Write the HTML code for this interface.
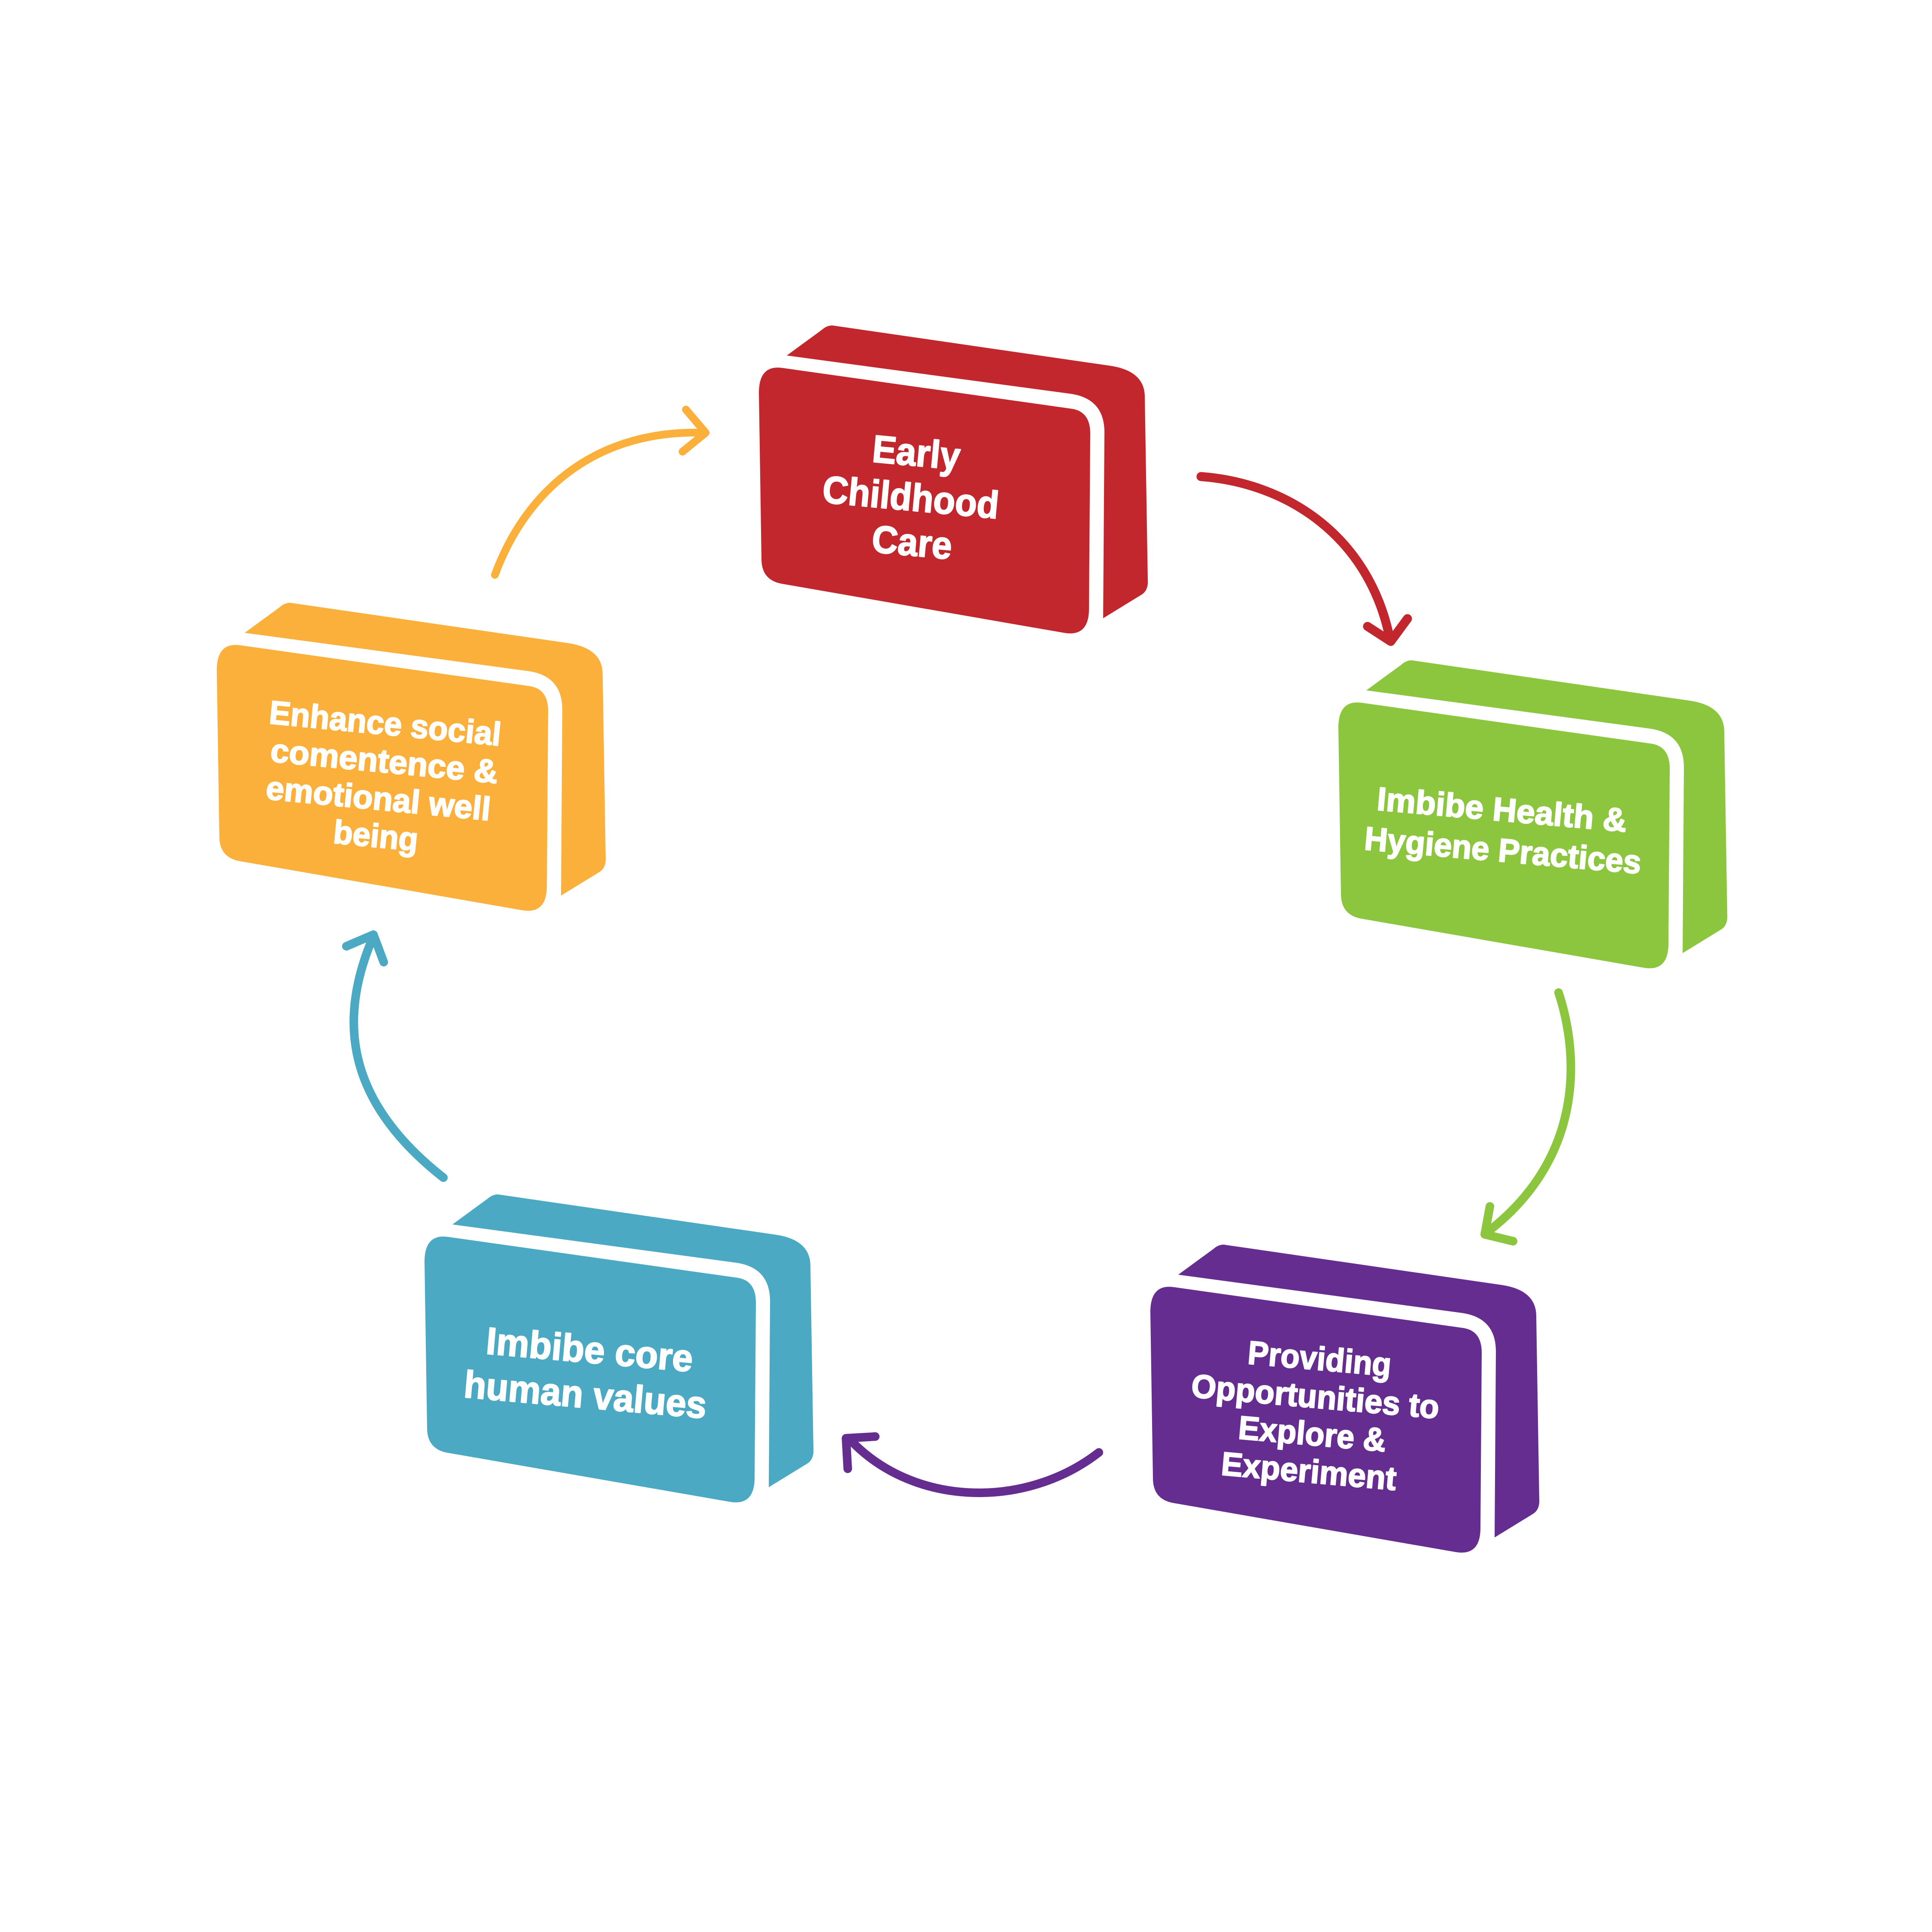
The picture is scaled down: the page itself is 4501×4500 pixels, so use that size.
<!DOCTYPE html>
<html>
<head>
<meta charset="utf-8">
<style>
  html, body { margin: 0; padding: 0; background: #ffffff; }
  body { width: 4501px; height: 4500px; overflow: hidden; }
  svg { display: block; }
  .t { font-family: "Liberation Sans", "DejaVu Sans", sans-serif; font-weight: bold; fill: #ffffff; stroke: #ffffff; stroke-width: 2.5; stroke-linejoin: round; }
</style>
</head>
<body>
<svg xmlns="http://www.w3.org/2000/svg" width="4501" height="4500" viewBox="0 0 4501 4500">
  <rect x="0" y="0" width="4501" height="4500" fill="#ffffff"/>

  <!-- ===== Red box: Early Childhood Care ===== -->
  <g transform="translate(1833,828)" fill="#C1272D">
    <path d="M0,0 L82,-60 Q93,-70 106,-70 L754,24 Q833,36 834,95 L841,522 Q843,548 825,558 L737,612 L740,179 Q740,100 660,89 Z"/>
    <path d="M-10,29 L663,124 Q707,130 707,182 L704,590 Q704,656 646,646 L-10,532 Q-59,524 -59,474 L-65,87 Q-65,21 -10,29 Z"/>
  </g>
  <g class="t" font-size="90" text-anchor="middle">
    <text transform="translate(2132,1085) rotate(5.3)" textLength="205" lengthAdjust="spacingAndGlyphs">Early</text>
    <text transform="translate(2119,1189) rotate(5.3)" textLength="412" lengthAdjust="spacingAndGlyphs">Childhood</text>
    <text transform="translate(2122,1294) rotate(5.3)" textLength="187" lengthAdjust="spacingAndGlyphs">Care</text>
  </g>

  <!-- ===== Orange box ===== -->
  <g transform="translate(570,1474)" fill="#FBB03B">
    <path d="M0,0 L82,-60 Q93,-70 106,-70 L754,24 Q833,36 834,95 L841,522 Q843,548 825,558 L737,612 L740,179 Q740,100 660,89 Z"/>
    <path d="M-10,29 L663,124 Q707,130 707,182 L704,590 Q704,656 646,646 L-10,532 Q-59,524 -59,474 L-65,87 Q-65,21 -10,29 Z"/>
  </g>
  <g class="t" font-size="77" text-anchor="middle">
    <text transform="translate(895,1711) rotate(5.5)" textLength="542" lengthAdjust="spacingAndGlyphs">Enhance social</text>
    <text transform="translate(893,1799) rotate(5.5)" textLength="532" lengthAdjust="spacingAndGlyphs">comentence &amp;</text>
    <text transform="translate(879,1886) rotate(5.5)" textLength="525" lengthAdjust="spacingAndGlyphs">emotional well</text>
    <text transform="translate(873,1973) rotate(5.5)" textLength="198" lengthAdjust="spacingAndGlyphs">being</text>
  </g>

  <!-- ===== Green box ===== -->
  <g transform="translate(3183,1608)" fill="#8CC63F">
    <path d="M0,0 L82,-60 Q93,-70 106,-70 L754,24 Q833,36 834,95 L841,522 Q843,548 825,558 L737,612 L740,179 Q740,100 660,89 Z"/>
    <path d="M-10,29 L663,124 Q707,130 707,182 L704,590 Q704,656 646,646 L-10,532 Q-59,524 -59,474 L-65,87 Q-65,21 -10,29 Z"/>
  </g>
  <g class="t" font-size="77" text-anchor="middle">
    <text transform="translate(3497,1912) rotate(5)" textLength="584" lengthAdjust="spacingAndGlyphs">Imbibe Health &amp;</text>
    <text transform="translate(3499,2007) rotate(5)" textLength="647" lengthAdjust="spacingAndGlyphs">Hygiene Practices</text>
  </g>

  <!-- ===== Purple box ===== -->
  <g transform="translate(2745,2969)" fill="#662D91">
    <path d="M0,0 L82,-60 Q93,-70 106,-70 L754,24 Q833,36 834,95 L841,522 Q843,548 825,558 L737,612 L740,179 Q740,100 660,89 Z"/>
    <path d="M-10,29 L663,124 Q707,130 707,182 L704,590 Q704,656 646,646 L-10,532 Q-59,524 -59,474 L-65,87 Q-65,21 -10,29 Z"/>
  </g>
  <g class="t" font-size="77" text-anchor="middle">
    <text transform="translate(3072,3191) rotate(5)" textLength="335" lengthAdjust="spacingAndGlyphs">Providing</text>
    <text transform="translate(3062,3279) rotate(5)" textLength="579" lengthAdjust="spacingAndGlyphs">Opportunities to</text>
    <text transform="translate(3055,3366) rotate(5)" textLength="345" lengthAdjust="spacingAndGlyphs">Explore &amp;</text>
    <text transform="translate(3047,3453) rotate(5)" textLength="409" lengthAdjust="spacingAndGlyphs">Experiment</text>
  </g>

  <!-- ===== Blue box ===== -->
  <g transform="translate(1054,2852)" fill="#4BA9C4">
    <path d="M0,0 L82,-60 Q93,-70 106,-70 L754,24 Q833,36 834,95 L841,522 Q843,548 825,558 L737,612 L740,179 Q740,100 660,89 Z"/>
    <path d="M-10,29 L663,124 Q707,130 707,182 L704,590 Q704,656 646,646 L-10,532 Q-59,524 -59,474 L-65,87 Q-65,21 -10,29 Z"/>
  </g>
  <g class="t" font-size="89" text-anchor="middle">
    <text transform="translate(1371,3174) rotate(5)" textLength="483" lengthAdjust="spacingAndGlyphs">Imbibe core</text>
    <text transform="translate(1361,3279) rotate(5)" textLength="567" lengthAdjust="spacingAndGlyphs">human values</text>
  </g>

  <!-- ===== Arrows ===== -->
  <g fill="none" stroke-linecap="round" stroke-linejoin="round" stroke-width="20">
    <path stroke="#C1272D" stroke-width="21" d="M2798,1110 C3000,1125 3190,1250 3238,1488"/>
    <path stroke="#C1272D" stroke-width="21" d="M3186,1459 L3240,1494 L3279,1441"/>

    <path stroke="#8CC63F" d="M3631,2312 C3680,2460 3690,2700 3462,2872"/>
    <path stroke="#8CC63F" d="M3471,2810 L3459,2875 L3525,2891"/>

    <path stroke="#662D91" d="M2560,3383 C2390,3515 2130,3510 1982,3355"/>
    <path stroke="#662D91" d="M1975,3421 L1971,3350 L2039,3346"/>

    <path stroke="#4BA9C4" d="M1033,2743 C800,2560 790,2370 868,2185"/>
    <path stroke="#4BA9C4" d="M807,2204 L870,2177 L894,2241"/>

    <path stroke="#FBB03B" stroke-width="18" d="M1153,1339 C1230,1130 1400,1000 1640,1008"/>
    <path stroke="#FBB03B" stroke-width="18" d="M1598,954 L1644,1008 L1590,1052"/>
  </g>
</svg>
</body>
</html>
